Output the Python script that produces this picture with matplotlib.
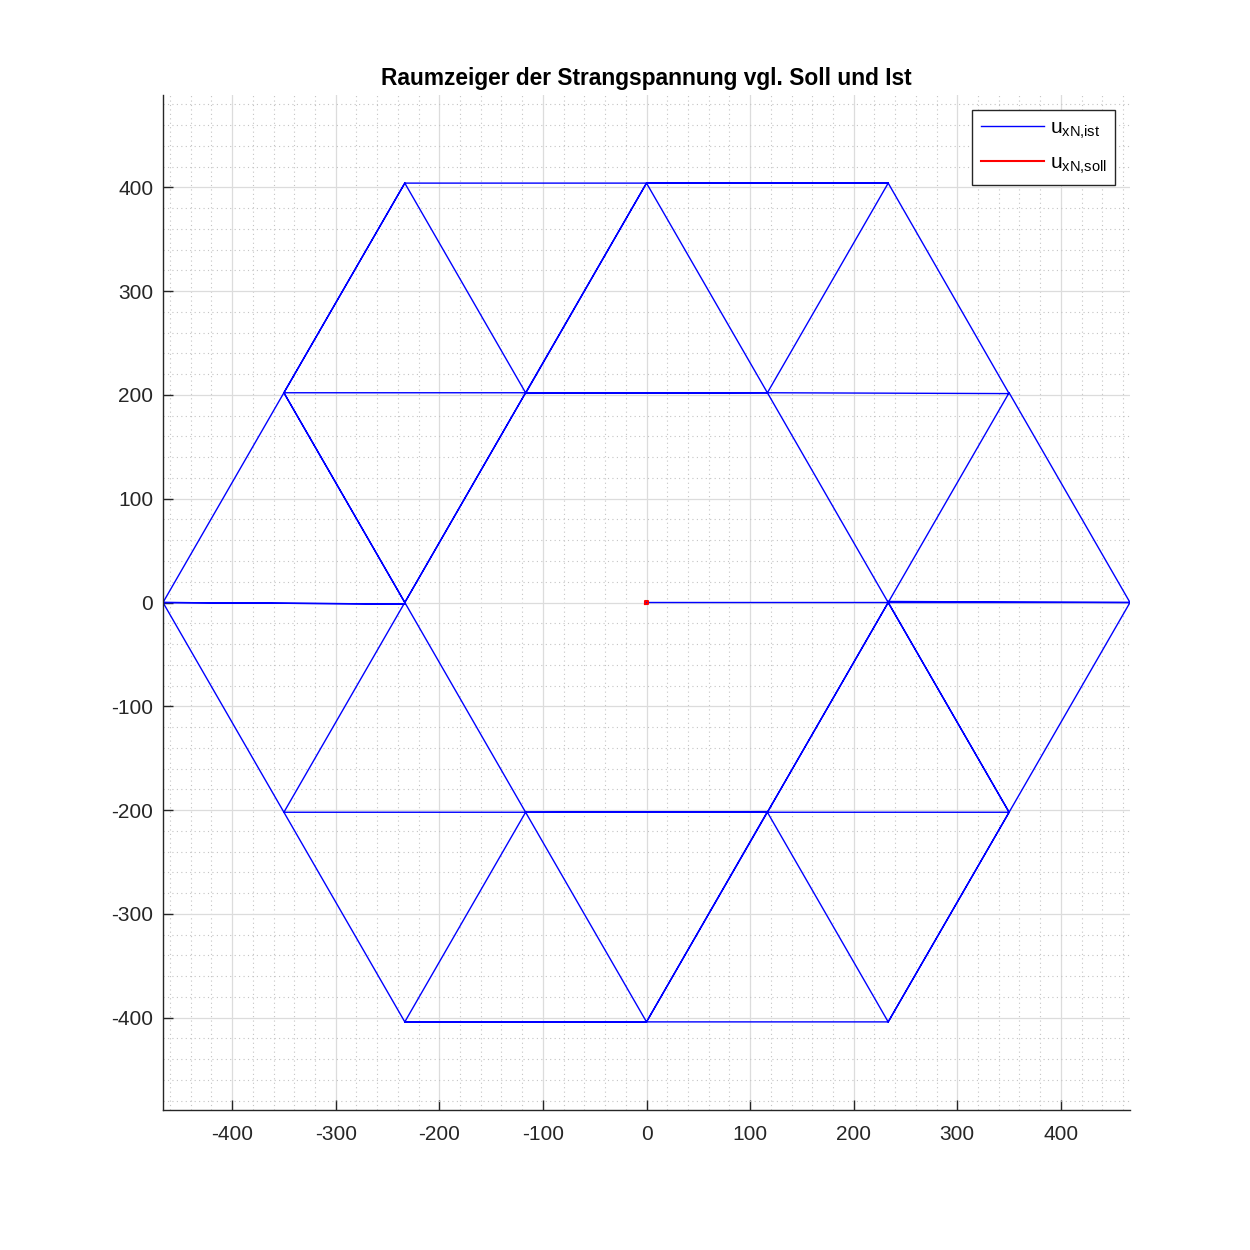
import matplotlib
matplotlib.use("Agg")
import matplotlib.pyplot as plt
from matplotlib.ticker import MultipleLocator

plt.rcParams['font.family'] = ['Liberation Sans', 'DejaVu Sans']
plt.rcParams['mathtext.default'] = 'regular'
plt.rcParams['axes.unicode_minus'] = False

# Raumzeiger ist (Bahn durch die Schaltzustaende)
ist_x = [0, 233.3, 466.7, 350, 233.3, 116.7, 350, 233.3, 116.7, 0, 233.3, 0,
         -116.7, 116.7, -116.7, 0, -233.3, -116.7, -350, -233.3, -350, -233.3,
         -116.7, -233.3, -350, -466.7, -233.3, -466.7, -350, -233.3, -116.7,
         -350, -233.3, -116.7, 0, -233.3, 0, 116.7, -116.7, 116.7, 0, 233.3,
         116.7, 350, 233.3, 350, 233.3, 116.7, 233.3, 350, 466.7, 233.3]
ist_y = [0, 0, 0, 202.1, 0, 202.1, 201.3, 404.1, 202.1, 404.1, 404.1, 404.1,
         202.1, 202.1, 201.5, 404.1, 404.1, 202.1, 202.1, 404.1, 202.1, 0,
         202.1, 0, 202.1, 0, -1.5, 0, -202.1, 0, -202.1, -202.1, -404.1,
         -202.1, -404.1, -404.1, -404.1, -202.1, -202.1, -201.5, -404.1,
         -404.1, -202.1, -202.1, -404.1, -202.1, 0, -202.1, 0, -202.1, 0, 1]

# Raumzeiger soll (nur im Ursprung)
soll_x = [-1.2, 1.2, 1.2, -1.2, -1.2]
soll_y = [-1.2, -1.2, 1.2, 1.2, -1.2]

fig = plt.figure(figsize=(12.5, 12.5), dpi=100)
ax = fig.add_axes([0.1304, 0.112, 0.7736, 0.812])

ax.plot(ist_x, ist_y, color='#0000ff', lw=1.0, label=r'u$_{xN{,}ist}$')
ax.plot(soll_x, soll_y, color='#ff0000', lw=1.5, label=r'u$_{xN{,}soll}$')

ax.set_xlim(-466.7, 466.7)
ax.set_ylim(-489, 489)
ax.xaxis.set_major_locator(MultipleLocator(100))
ax.yaxis.set_major_locator(MultipleLocator(100))
ax.xaxis.set_minor_locator(MultipleLocator(20))
ax.yaxis.set_minor_locator(MultipleLocator(20))

ax.grid(which='major', color='#dcdcdc', lw=0.9, ls='-')
ax.grid(which='minor', color='#c4c4c4', lw=0.8, ls=(0, (1, 3)))
ax.set_axisbelow(True)

for s in ['top', 'right']:
    ax.spines[s].set_visible(False)
for s in ['left', 'bottom']:
    ax.spines[s].set_color('#262626')
    ax.spines[s].set_linewidth(1.0)

ax.tick_params(which='major', direction='in', length=7, width=1.0,
               colors='#262626', labelsize=15)
ax.tick_params(axis='x', which='major', pad=11)
ax.tick_params(axis='y', which='major', pad=7)
ax.tick_params(which='minor', length=0)

ax.set_title('Raumzeiger der Strangspannung vgl. Soll und Ist',
             fontsize=16.4, fontweight='bold', pad=7)

leg = ax.legend(loc='upper right', fontsize=15, frameon=True, fancybox=False,
                edgecolor='#262626', framealpha=1, handlelength=3.0,
                handletextpad=0.3, borderaxespad=0.7, labelspacing=0.62,
                borderpad=0.42)
leg.get_frame().set_linewidth(1.0)

fig.savefig('out.png', dpi=100)
